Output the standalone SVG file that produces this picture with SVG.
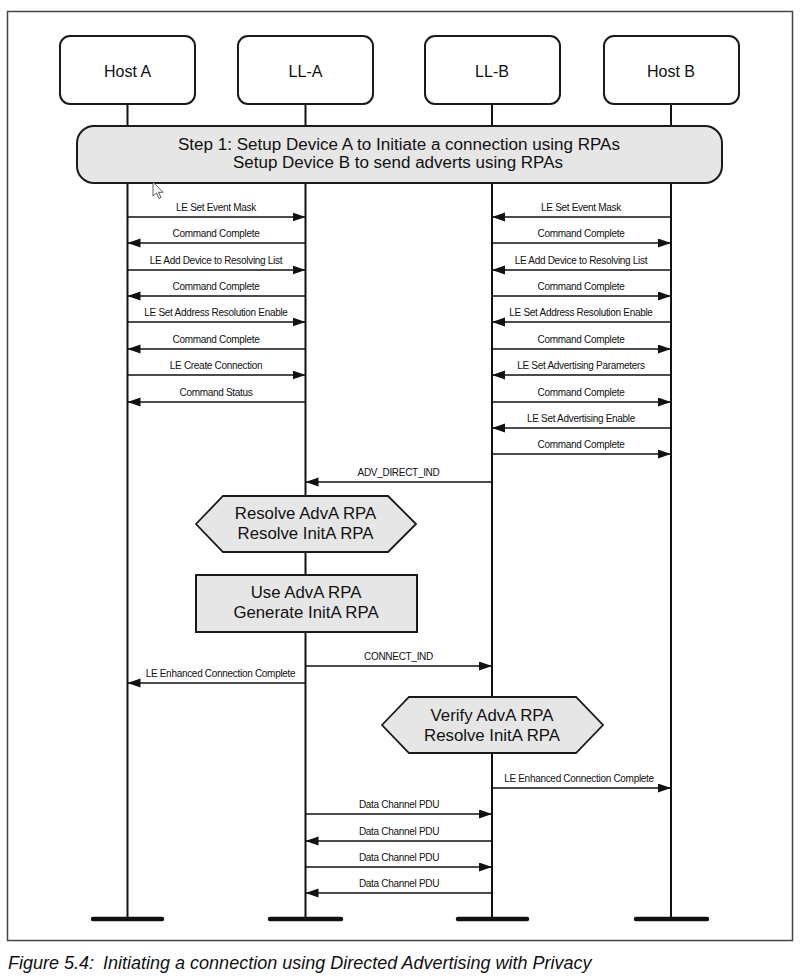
<svg xmlns="http://www.w3.org/2000/svg" width="800" height="980" viewBox="0 0 800 980">
<style>
.head{fill:#fff;stroke:#1a1a1a;stroke-width:2}
.hl{font-family:"Liberation Sans",Arial,sans-serif;font-size:16px;fill:#111;text-anchor:middle}
.big{font-family:"Liberation Sans",Arial,sans-serif;font-size:16.8px;fill:#111;text-anchor:middle}
.step{font-family:"Liberation Sans",Arial,sans-serif;font-size:15.8px;fill:#111;text-anchor:middle}
.life{stroke:#111;stroke-width:2;fill:none}
.bar{stroke:#111;stroke-width:4.5;stroke-linecap:round}
.msg{stroke:#111;stroke-width:1.5;fill:none;marker-end:url(#ah)}
.ml{font-family:"Liberation Sans",Arial,sans-serif;font-size:10px;letter-spacing:-0.3px;fill:#111;text-anchor:middle}
.gray{fill:#e6e6e6;stroke:#1a1a1a;stroke-width:1.8}
.cap{font-family:"Liberation Sans",Arial,sans-serif;font-size:18px;font-style:italic;fill:#111}
</style>
<defs>
<marker id="ah" markerUnits="userSpaceOnUse" markerWidth="14" markerHeight="10" refX="13" refY="4.5" orient="auto">
<path d="M0,0 L13,4.5 L0,9 z" fill="#111"/>
</marker>
</defs>
<rect x="0" y="0" width="800" height="980" fill="#fff"/>
<rect id="frame" x="7.5" y="11.5" width="785" height="929" fill="none" stroke="#444" stroke-width="1.5"/>

<g id="lifelines">
<line class="life" x1="127.5" y1="104" x2="127.5" y2="919"/>
<line class="life" x1="305.5" y1="104" x2="305.5" y2="919"/>
<line class="life" x1="492" y1="104" x2="492" y2="919"/>
<line class="life" x1="671" y1="104" x2="671" y2="919"/>
<line class="bar" x1="93" y1="919" x2="162" y2="919"/>
<line class="bar" x1="270" y1="919" x2="341" y2="919"/>
<line class="bar" x1="458" y1="919" x2="527" y2="919"/>
<line class="bar" x1="636" y1="919" x2="707" y2="919"/>
</g>

<g id="hostA"><rect class="head" x="60" y="36" width="135" height="68" rx="10"/><text class="hl" x="127.5" y="77">Host A</text></g>
<g id="llA"><rect class="head" x="238" y="36" width="135" height="68" rx="10"/><text class="hl" x="305.5" y="77">LL-A</text></g>
<g id="llB"><rect class="head" x="425" y="36" width="135" height="68" rx="10"/><text class="hl" x="492" y="77">LL-B</text></g>
<g id="hostB"><rect class="head" x="604" y="36" width="135" height="68" rx="10"/><text class="hl" x="671" y="77">Host B</text></g>

<g id="step1">
<rect x="77" y="126" width="645" height="57" rx="17" fill="#e6e6e6" stroke="#1a1a1a" stroke-width="2"/>
<text class="step" x="399" y="150" textLength="442" lengthAdjust="spacingAndGlyphs">Step 1: Setup Device A to Initiate a connection using RPAs</text>
<text class="step" x="398" y="168" textLength="330" lengthAdjust="spacingAndGlyphs">Setup Device B to send adverts using RPAs</text>
</g>

<g id="connectors">
<line class="msg" x1="127.5" y1="217" x2="305.5" y2="217"/><text class="ml" x="216" y="211">LE Set Event Mask</text>
<line class="msg" x1="305.5" y1="243" x2="127.5" y2="243"/><text class="ml" x="216" y="237">Command Complete</text>
<line class="msg" x1="127.5" y1="270" x2="305.5" y2="270"/><text class="ml" x="216" y="264">LE Add Device to Resolving List</text>
<line class="msg" x1="305.5" y1="296" x2="127.5" y2="296"/><text class="ml" x="216" y="290">Command Complete</text>
<line class="msg" x1="127.5" y1="322" x2="305.5" y2="322"/><text class="ml" x="216" y="316">LE Set Address Resolution Enable</text>
<line class="msg" x1="305.5" y1="349" x2="127.5" y2="349"/><text class="ml" x="216" y="343">Command Complete</text>
<line class="msg" x1="127.5" y1="375" x2="305.5" y2="375"/><text class="ml" x="216" y="369">LE Create Connection</text>
<line class="msg" x1="305.5" y1="402" x2="127.5" y2="402"/><text class="ml" x="216" y="396">Command Status</text>

<line class="msg" x1="671" y1="217" x2="492" y2="217"/><text class="ml" x="581" y="211">LE Set Event Mask</text>
<line class="msg" x1="492" y1="243" x2="671" y2="243"/><text class="ml" x="581" y="237">Command Complete</text>
<line class="msg" x1="671" y1="270" x2="492" y2="270"/><text class="ml" x="581" y="264">LE Add Device to Resolving List</text>
<line class="msg" x1="492" y1="296" x2="671" y2="296"/><text class="ml" x="581" y="290">Command Complete</text>
<line class="msg" x1="671" y1="322" x2="492" y2="322"/><text class="ml" x="581" y="316">LE Set Address Resolution Enable</text>
<line class="msg" x1="492" y1="349" x2="671" y2="349"/><text class="ml" x="581" y="343">Command Complete</text>
<line class="msg" x1="671" y1="375" x2="492" y2="375"/><text class="ml" x="581" y="369">LE Set Advertising Parameters</text>
<line class="msg" x1="492" y1="402" x2="671" y2="402"/><text class="ml" x="581" y="396">Command Complete</text>
<line class="msg" x1="671" y1="428" x2="492" y2="428"/><text class="ml" x="581" y="422">LE Set Advertising Enable</text>
<line class="msg" x1="492" y1="454" x2="671" y2="454"/><text class="ml" x="581" y="448">Command Complete</text>

<line class="msg" x1="492" y1="482" x2="305.5" y2="482"/><text class="ml" x="398.5" y="476">ADV_DIRECT_IND</text>
<line class="msg" x1="305.5" y1="666" x2="492" y2="666"/><text class="ml" x="398.5" y="660">CONNECT_IND</text>
<line class="msg" x1="305.5" y1="683" x2="127.5" y2="683"/><text class="ml" x="220.5" y="677">LE Enhanced Connection Complete</text>
<line class="msg" x1="492" y1="788" x2="671" y2="788"/><text class="ml" x="579" y="782">LE Enhanced Connection Complete</text>
<line class="msg" x1="305.5" y1="814" x2="492" y2="814"/><text class="ml" x="399" y="808">Data Channel PDU</text>
<line class="msg" x1="492" y1="841" x2="305.5" y2="841"/><text class="ml" x="399" y="835">Data Channel PDU</text>
<line class="msg" x1="305.5" y1="867" x2="492" y2="867"/><text class="ml" x="399" y="861">Data Channel PDU</text>
<line class="msg" x1="492" y1="893" x2="305.5" y2="893"/><text class="ml" x="399" y="887">Data Channel PDU</text>
</g>

<g id="resolveA">
<polygon class="gray" points="196,524 223,496 388,496 416,524 388,552 223,552"/>
<text class="big" x="305.5" y="519">Resolve AdvA RPA</text>
<text class="big" x="305.5" y="539">Resolve InitA RPA</text>
</g>

<g id="useAdvA">
<rect x="196" y="575" width="221" height="57" fill="#e6e6e6" stroke="#1a1a1a" stroke-width="2"/>
<text class="big" x="306" y="598">Use AdvA RPA</text>
<text class="big" x="306" y="618">Generate InitA RPA</text>
</g>

<g id="verifyB">
<polygon class="gray" points="382,725 409,697 576,697 603,725 576,753 409,753"/>
<text class="big" x="492" y="721">Verify AdvA RPA</text>
<text class="big" x="492" y="741">Resolve InitA RPA</text>
</g>

<g id="cursor">
<polygon points="153,182 153,196 156.5,193 159,198.5 161,197.5 158.5,192.3 163,192.3" fill="#fff" stroke="#333" stroke-width="0.8"/>
</g>

<text class="cap" x="8" y="969">Figure 5.4:<tspan dx="9">Initiating a connection using Directed Advertising with Privacy</tspan></text>
</svg>
